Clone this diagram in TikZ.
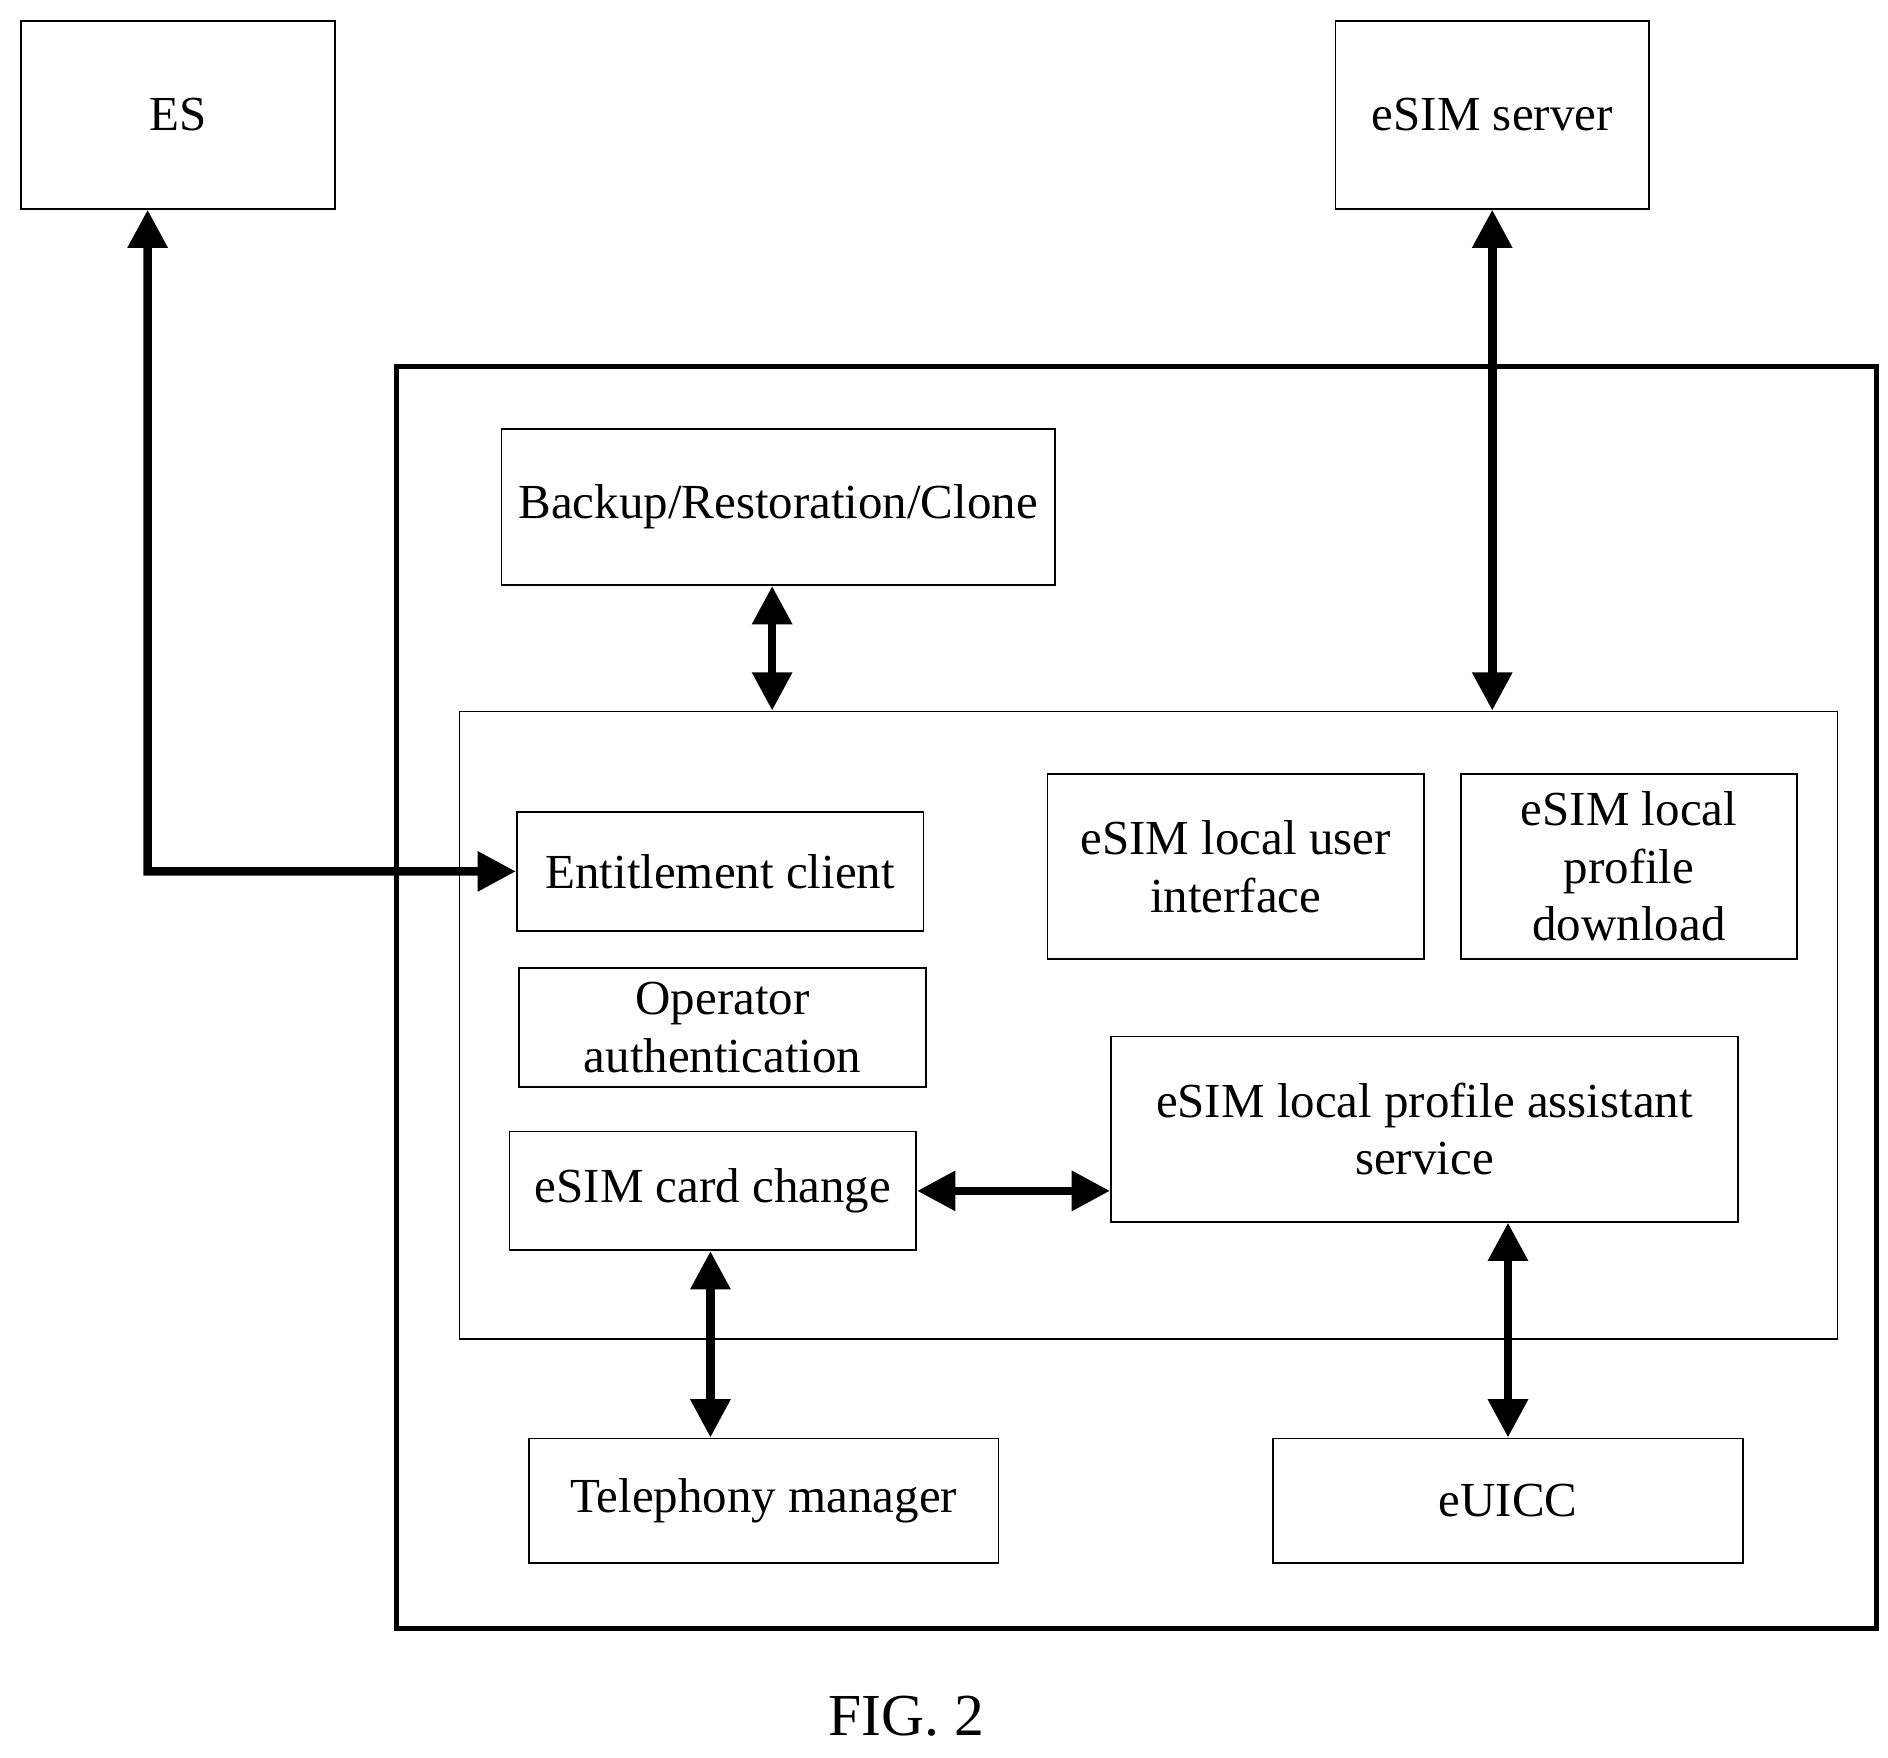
\documentclass[tikz,border=0pt]{standalone}
\usepackage{fontspec}
\setmainfont{Liberation Serif}
\usetikzlibrary{arrows.meta}
\tikzset{
    box/.style={draw, thin, rectangle, align=center, inner sep=0pt, font=\fontsize{11.5}{13.5}\selectfont},
    link/.style={line width=2pt, {Triangle[length=9pt,width=9pt]}-{Triangle[length=9pt,width=9pt]}}
}
\begin{document}
\begin{tikzpicture}[x=0.01cm, y=-0.01cm]
        \useasboundingbox (0,0) rectangle (1560,1452);

        % Outer frames
        \node[draw, line width=1.2pt, minimum width=12.22cm, minimum height=10.42cm] (device) at (939,824){};
        \node[draw, thin, minimum width=11.38cm, minimum height=5.18cm] (frame) at (949,847){};

        % Boxes
        \node[box, minimum width=2.59cm, minimum height=1.55cm] (es) at (147,95){ES};
        \node[box, minimum width=2.59cm, minimum height=1.55cm] (server) at (1233,95){eSIM server};
        \node[box, minimum width=4.57cm, minimum height=1.29cm] (backup) at (643,419){Backup/Restoration/Clone};
        \node[box, minimum width=3.36cm, minimum height=0.98cm] (client) at (595,720){Entitlement client};
        \node[box, minimum width=3.36cm, minimum height=0.98cm] (auth) at (597,849){Operator\\authentication};
        \node[box, minimum width=3.36cm, minimum height=0.98cm] (change) at (589,984){eSIM card change};
        \node[box, minimum width=3.11cm, minimum height=1.53cm] (ui) at (1021,716){eSIM local user\\interface};
        \node[box, minimum width=2.77cm, minimum height=1.53cm] (download) at (1346,716){eSIM local\\profile\\download};
        \node[box, minimum width=5.18cm, minimum height=1.53cm] (lpa) at (1177,933){eSIM local profile assistant\\service};
        \node[box, minimum width=3.88cm, minimum height=1.03cm] (phone) at (631,1240){Telephony manager};
        \node[box, minimum width=3.88cm, minimum height=1.03cm] (euicc) at (1246,1240){eUICC};
        \node[font=\fontsize{14}{16}\selectfont] (fig) at (749,1418){FIG. 2};

        % Connectors
        \coordinate (bend) at (122,720);
        \draw[link] ([xshift=-0.25cm]es.south) -- (bend) -- (client.west);
        \draw[link] (server.south) -- (frame.north -| server.south);
        \draw[link] (backup.south -| 638,0) -- (frame.north -| 638,0);
        \draw[link] (change.east) -- (change.east -| lpa.west);
        \draw[link] (change.south -| 587,0) -- (phone.north -| 587,0);
        \draw[link] (lpa.south -| euicc.north) -- (euicc.north);

\end{tikzpicture}
\end{document}
